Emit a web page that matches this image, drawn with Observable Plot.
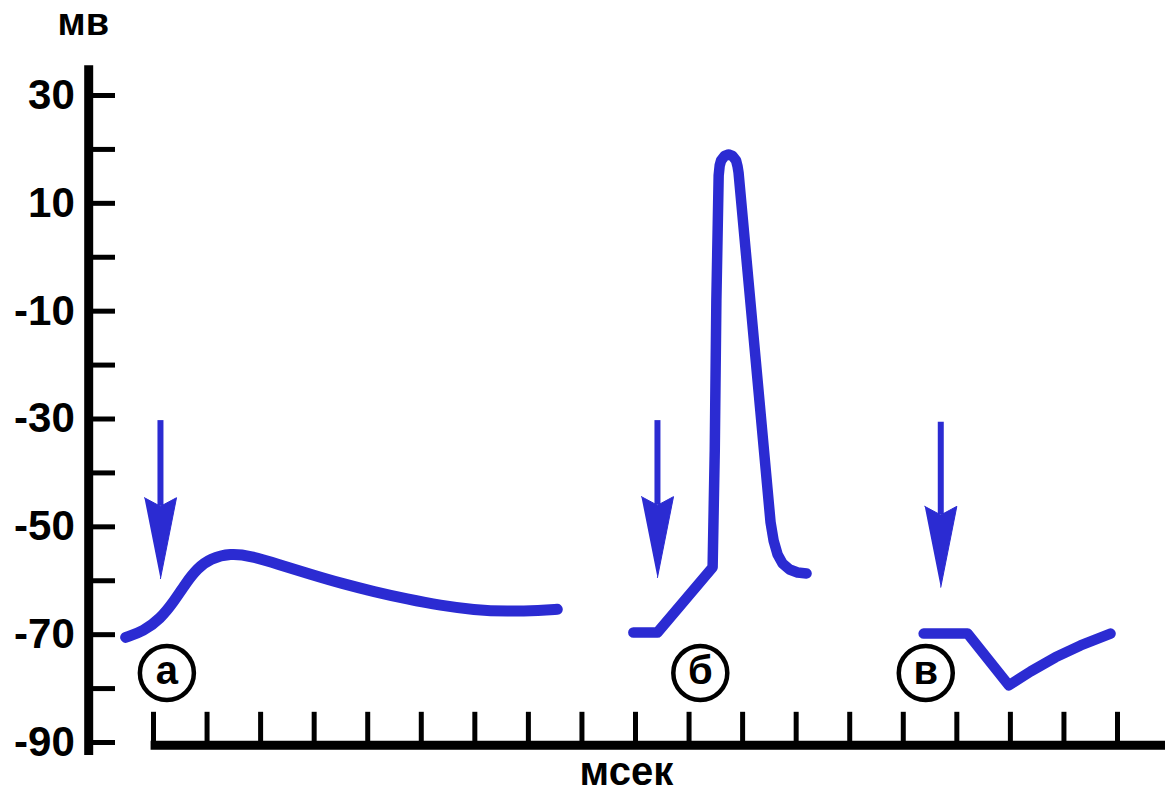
<!DOCTYPE html>
<html><head><meta charset="utf-8">
<script src="https://cdn.jsdelivr.net/npm/d3@7"></script>
<script src="https://cdn.jsdelivr.net/npm/@observablehq/plot@0.6"></script>
<style>html,body{margin:0;padding:0;background:#fff} svg{display:block}</style>
</head><body><div id="chart"></div>
<script>
// ---- data ----
const yMinorTicks = [30, 20, 10, 0, -10, -20, -30, -40, -50, -60, -70, -80, -90];
const yTickLabels = [30, 10, -10, -30, -50, -70, -90];
const xTicks = [0, 1, 2, 3, 4, 5, 6, 7, 8, 9, 10, 11, 12, 13, 14, 15, 16, 17, 18];

// curve а (subthreshold depolarisation)
const aT = [-0.52, -0.19, 0.13, 0.37, 0.60, 0.82, 1.06, 1.44, 1.81, 2.32, 2.93, 3.55, 4.11, 4.74, 5.36, 5.98, 6.61, 7.23, 7.54];
const aV = [-70.5, -69.4, -67.0, -64.0, -60.5, -57.7, -55.9, -54.9, -55.4, -56.9, -58.8, -60.6, -62.0, -63.4, -64.6, -65.4, -65.7, -65.5, -65.3];
// curve б (action potential)
const bT = [8.96, 9.41, 10.44, 10.48, 10.51, 10.553, 10.572, 10.598, 10.663, 10.738, 10.812, 10.878, 10.906, 10.924, 11.522, 11.578, 11.653, 11.746, 11.877, 12.026, 12.194];
const bV = [-69.6, -69.6, -57.5, -35.8, -8.0, 15.16, 17.02, 17.95, 18.78, 19.06, 18.78, 17.95, 16.83, 15.72, -49.19, -52.53, -55.13, -56.80, -57.91, -58.47, -58.65];
// curve в (hyperpolarisation)
const cT = [14.38, 15.20, 15.97, 16.38, 16.84, 17.31, 17.87];
const cV = [-69.8, -69.8, -79.4, -76.8, -74.2, -72.0, -69.8];

// stimulus arrows
const arrowX = [0.13, 9.41, 14.70];
const arrowTop = [-30.3, -30.3, -30.6];
const arrowTip = [-59.6, -59.4, -61.2];

// panel labels
const panelLabels = ["а", "б", "в"];
const panelX = [0.25, 10.21, 14.42];
const panelY = [-77.1, -77.1, -77.1];

// ---- build ----
const blue = "#2b2bd2";
const toPts = (T, V) => T.map((t, i) => ({t, v: V[i]}));
const curveA = toPts(aT, aV), curveB = toPts(bT, bV), curveC = toPts(cT, cV);

const headLen = 15, headHalf = 0.3, notch = 1.6;
const arrows = arrowX.map((x, i) => ({x, top: arrowTop[i], tip: arrowTip[i], id: i}));
const heads = arrows.flatMap(a => [
  {id: a.id, x: a.x - headHalf, y: a.tip + headLen},
  {id: a.id, x: a.x, y: a.tip + headLen - notch},
  {id: a.id, x: a.x + headHalf, y: a.tip + headLen},
  {id: a.id, x: a.x, y: a.tip}
]);
const labels = panelLabels.map((s, i) => ({s, x: panelX[i], y: panelY[i]}));

const font = "'Liberation Sans', Arial, Helvetica, sans-serif";

const chart = Plot.plot({
  width: 1165, height: 793,
  marginLeft: 153, marginRight: 48, marginTop: 95, marginBottom: 51,
  x: {domain: [0, 18], axis: null},
  y: {domain: [-90, 30], axis: null},
  style: {fontFamily: font, background: "#fff", color: "#000", overflow: "visible"},
  marks: [
    // y axis
    Plot.ruleX([-1.21], {y1: -92.4, y2: 35.5, stroke: "#000", strokeWidth: 9}),
    Plot.ruleY(yMinorTicks, {y: d => d, x1: -1.21, x2: -0.71, stroke: "#000", strokeWidth: 5}),
    Plot.text(yTickLabels, {x: -1.47, y: d => d, text: d => String(d), textAnchor: "end", lineAnchor: "middle", fontSize: 42, fontWeight: "bold", fill: "#000"}),
    Plot.text(["мв"], {x: -1.31, y: 41.31, text: d => d, textAnchor: "middle", lineAnchor: "bottom", fontSize: 38, fontWeight: "bold", fill: "#000"}),
    // x axis
    Plot.ruleY([-90.5], {x1: -0.045, x2: 19, stroke: "#000", strokeWidth: 9}),
    Plot.ruleX(xTicks, {x: d => d, y1: -90.5, y2: -84.4, stroke: "#000", strokeWidth: 5}),
    Plot.text(["мсек"], {x: 8.83, y: -97.8, text: d => d, textAnchor: "middle", lineAnchor: "bottom", fontSize: 40, fontWeight: "bold", fill: "#000"}),
    // curves
    Plot.line(curveA, {x: "t", y: "v", stroke: blue, strokeWidth: 11, curve: "basis", strokeLinecap: "round"}),
    Plot.line(curveB, {x: "t", y: "v", stroke: blue, strokeWidth: 10.5, curve: "linear", strokeLinecap: "round", strokeLinejoin: "round"}),
    Plot.line(curveC, {x: "t", y: "v", stroke: blue, strokeWidth: 10.5, curve: "linear", strokeLinecap: "round", strokeLinejoin: "round"}),
    // arrows
    Plot.ruleX(arrows, {x: "x", y1: "top", y2: d => d.tip + headLen - notch, stroke: blue, strokeWidth: 6}),
    Plot.line(heads, {x: "x", y: "y", z: "id", fill: blue, stroke: blue, strokeWidth: 1, strokeLinejoin: "miter", strokeMiterlimit: 10}),
    // panel labels
    Plot.dot(labels, {x: "x", y: "y", r: 27, stroke: "#000", strokeWidth: 4.5, fill: "#fff"}),
    Plot.text(labels, {x: "x", y: "y", text: "s", fontSize: 40, fontWeight: "bold", fill: "#000", lineAnchor: "middle", dy: -2})
  ]
});
document.getElementById("chart").appendChild(chart);
</script>
</body></html>
